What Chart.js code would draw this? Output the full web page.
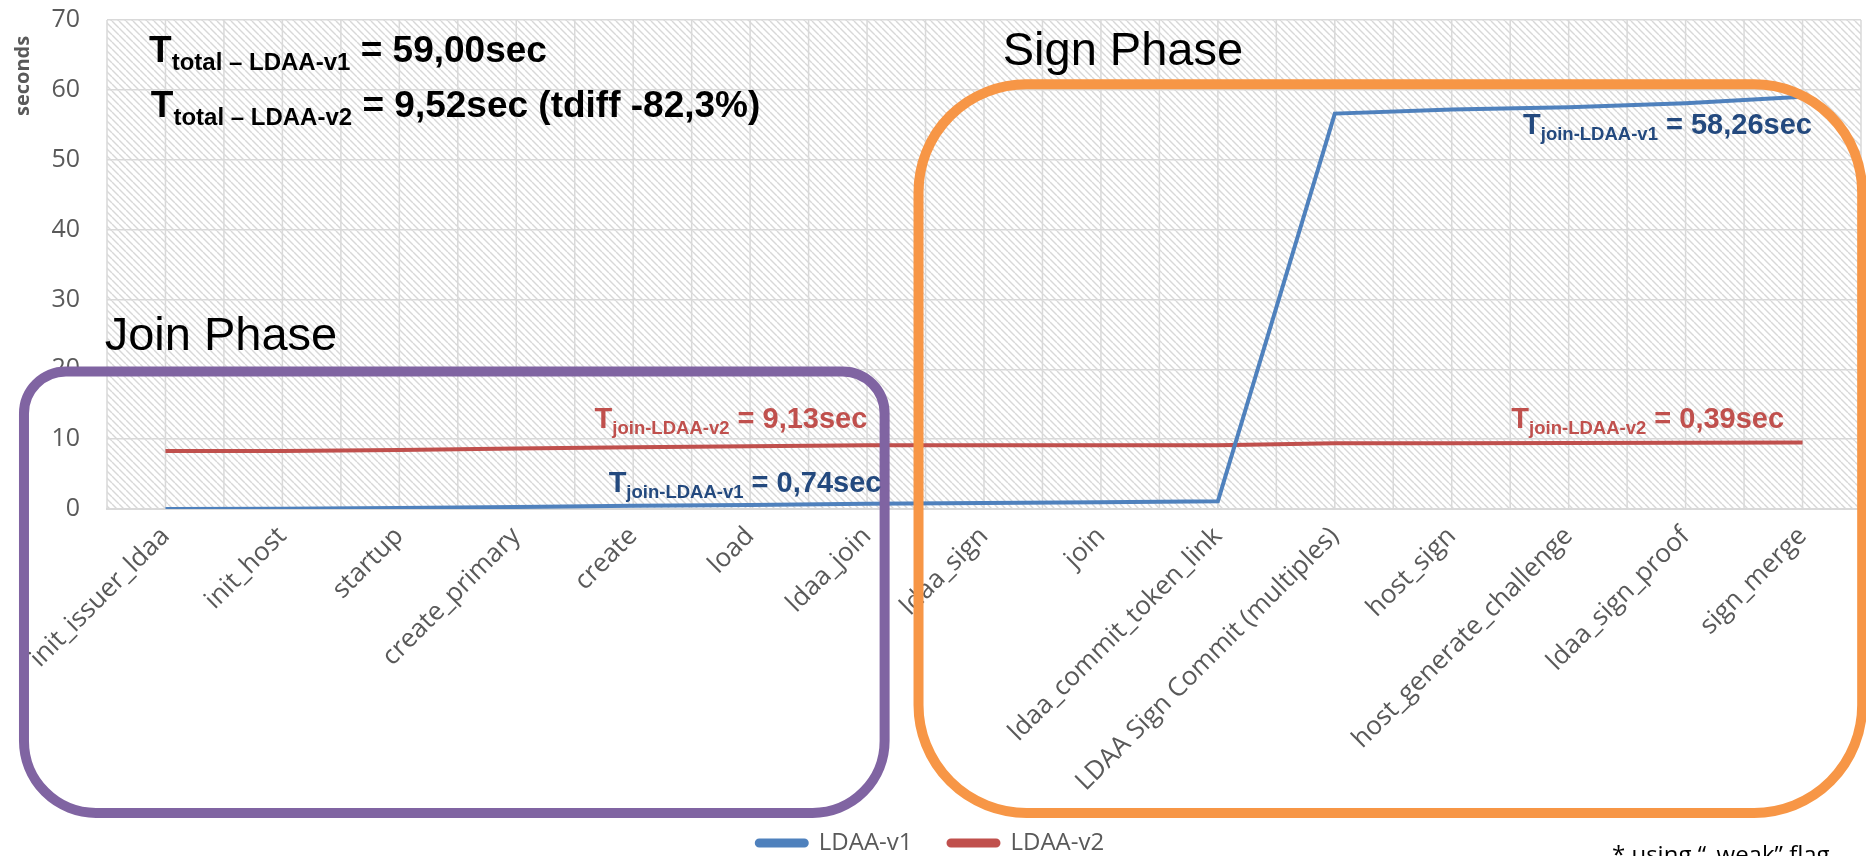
<!DOCTYPE html>
<html>
<head>
<meta charset="utf-8">
<script src="https://cdn.jsdelivr.net/npm/chart.js@4.4.1/dist/chart.umd.min.js"></script>
<style>
  html, body { margin: 0; padding: 0; background: #ffffff; overflow: hidden; }
  #wrap { width: 1866px; height: 856px; position: relative; }
</style>
</head>
<body>
<div id="wrap"><canvas id="chart" width="1866" height="856"></canvas></div>
<script>
// Cumulative execution time (seconds) per LDAA step
const categories = [
  'init_issuer_ldaa', 'init_host', 'startup', 'create_primary', 'create', 'load', 'ldaa_join',
  'ldaa_sign', 'join', 'ldaa_commit_token_link', 'LDAA Sign Commit (multiples)', 'host_sign',
  'host_generate_challenge', 'ldaa_sign_proof', 'sign_merge'
];
const ldaaV1 = [0.00, 0.05, 0.15, 0.30, 0.45, 0.58, 0.74, 0.86, 0.97, 1.10, 56.60, 57.20, 57.50, 58.10, 59.00];
const ldaaV2 = [8.30, 8.32, 8.45, 8.65, 8.85, 9.00, 9.13, 9.13, 9.13, 9.14, 9.40, 9.42, 9.45, 9.48, 9.52];
const seriesNames = ['LDAA-v1', 'LDAA-v2'];
const yTickValues = [0, 10, 20, 30, 40, 50, 60, 70];
const yTitle = 'seconds';

const BLUE = '#4F81BD';
const RED = '#C0504D';
const DARK_BLUE = '#23497E';
const GREY_TEXT = '#595959';
const GRID = '#D9D9D9';

// Phase frames, in axis units (x: category index, y: seconds)
const phaseFrames = [
  { x0: -1.21, x1: 6.15, y0: 19.7, y1: -43.5, color: '#8064A2', radii: [42, 42, 72, 72] },
  { x0: 6.44, x1: 14.51, y0: 60.8, y1: -43.5, color: '#F79646', radii: [108, 108, 108, 108] }
];
const phaseTitles = [
  { text: 'Join Phase', x: -0.52, y: 22.8 },
  { text: 'Sign Phase', x: 7.16, y: 63.6 }
];
// Labels made of "T" + subscript + value text
const totalLabels = [
  { sub: 'total \u2013 LDAA-v1', rest: ' = 59,00sec', x: -0.14, y: 64.0 },
  { sub: 'total \u2013 LDAA-v2', rest: ' = 9,52sec (tdiff -82,3%)', x: -0.125, y: 56.1 }
];
const joinLabels = [
  { sub: 'join-LDAA-v1', rest: ' = 58,26sec', x: 11.61, y: 53.7, color: DARK_BLUE },
  { sub: 'join-LDAA-v2', rest: ' = 9,13sec', x: 3.67, y: 11.6, color: RED },
  { sub: 'join-LDAA-v2', rest: ' = 0,39sec', x: 11.51, y: 11.6, color: RED },
  { sub: 'join-LDAA-v1', rest: ' = 0,74sec', x: 3.79, y: 2.4, color: DARK_BLUE }
];
const footnote = '* using \u201C_weak\u201D flag';

function drawSubscripted(ctx, x, y, item, big, small, dy, color) {
  ctx.fillStyle = color;
  ctx.textBaseline = 'alphabetic';
  ctx.textAlign = 'left';
  ctx.font = 'bold ' + big + 'px "Liberation Sans", Arial, sans-serif';
  ctx.fillText('T', x, y);
  let cx = x + ctx.measureText('T').width;
  ctx.font = 'bold ' + small + 'px "Liberation Sans", Arial, sans-serif';
  ctx.fillText(item.sub, cx, y + dy);
  cx += ctx.measureText(item.sub).width;
  ctx.font = 'bold ' + big + 'px "Liberation Sans", Arial, sans-serif';
  ctx.fillText(item.rest, cx, y);
}

// Hatched plot background with vertical grid at every half category
const backdropPlugin = {
  id: 'backdrop',
  beforeDraw(chart) {
    const { ctx, chartArea: a } = chart;
    const xs = chart.scales.x;
    const tile = document.createElement('canvas');
    tile.width = 7; tile.height = 7;
    const t = tile.getContext('2d');
    t.strokeStyle = '#d8d8d8';
    t.lineWidth = 1.4;
    t.beginPath();
    for (const k of [-7, 0, 7]) { t.moveTo(k, 0); t.lineTo(k + 7, 7); }
    t.stroke();
    ctx.save();
    ctx.fillStyle = ctx.createPattern(tile, 'repeat');
    ctx.fillRect(a.left, a.top, a.right - a.left, a.bottom - a.top);
    ctx.strokeStyle = GRID;
    ctx.lineWidth = 1.5;
    ctx.beginPath();
    for (let i = 0; i <= categories.length * 2; i++) {
      const px = xs.getPixelForValue(i / 2 - 0.5);
      ctx.moveTo(px, a.top);
      ctx.lineTo(px, a.bottom);
    }
    ctx.stroke();
    ctx.restore();
  }
};

// Phase frames, value annotations, axis title and footnote
const annotationPlugin = {
  id: 'annotations',
  afterDatasetsDraw(chart) {
    const { ctx } = chart;
    const xs = chart.scales.x, ys = chart.scales.y;
    ctx.save();
    phaseFrames.forEach(f => {
      const l = xs.getPixelForValue(f.x0), r = xs.getPixelForValue(f.x1);
      const t = ys.getPixelForValue(f.y0), b = ys.getPixelForValue(f.y1);
      ctx.beginPath();
      ctx.roundRect(l, t, r - l, b - t, f.radii);
      ctx.strokeStyle = f.color;
      ctx.lineWidth = 10;
      ctx.stroke();
    });
    ctx.fillStyle = '#000000';
    ctx.textAlign = 'left';
    ctx.textBaseline = 'alphabetic';
    ctx.font = '47px "Liberation Sans", Arial, sans-serif';
    phaseTitles.forEach(p => {
      ctx.fillText(p.text, xs.getPixelForValue(p.x), ys.getPixelForValue(p.y));
    });
    totalLabels.forEach(l => {
      drawSubscripted(ctx, xs.getPixelForValue(l.x), ys.getPixelForValue(l.y), l, 37, 24, 8, '#000000');
    });
    joinLabels.forEach(l => {
      drawSubscripted(ctx, xs.getPixelForValue(l.x), ys.getPixelForValue(l.y), l, 29, 18.5, 6, l.color);
    });

    // vertical axis title, placed near the top of the value axis
    ctx.save();
    ctx.translate(ys.left + 23, ys.getPixelForValue(62));
    ctx.rotate(-Math.PI / 2);
    ctx.font = 'bold 20px "Open Sans", sans-serif';
    ctx.fillStyle = GREY_TEXT;
    ctx.textAlign = 'center';
    ctx.textBaseline = 'middle';
    ctx.fillText(yTitle, 0, 0);
    ctx.restore();

    ctx.font = '24px "Open Sans", "Liberation Sans", sans-serif';
    ctx.fillStyle = '#000000';
    ctx.textBaseline = 'top';
    ctx.textAlign = 'left';
    ctx.fillText(footnote, chart.width - 254, chart.height - 12);
    ctx.restore();
  }
};

new Chart(document.getElementById('chart'), {
  type: 'line',
  data: {
    labels: categories,
    datasets: [
      { label: seriesNames[0], data: ldaaV1, borderColor: BLUE, backgroundColor: BLUE, borderWidth: 4, pointRadius: 0, tension: 0 },
      { label: seriesNames[1], data: ldaaV2, borderColor: RED, backgroundColor: RED, borderWidth: 4, pointRadius: 0, tension: 0 }
    ]
  },
  options: {
    responsive: false,
    animation: false,
    devicePixelRatio: 1,
    layout: { padding: { left: 0, top: 20, right: 5, bottom: -9 } },
    plugins: {
      legend: {
        position: 'bottom',
        labels: {
          boxWidth: 50,
          boxHeight: 5,
          padding: 36,
          color: GREY_TEXT,
          font: { family: 'Open Sans', size: 24 },
          useBorderRadius: true,
          borderRadius: 2.5
        }
      },
      tooltip: { enabled: false }
    },
    scales: {
      x: {
        offset: true,
        grid: { display: false, drawTicks: false },
        border: { display: true, color: GRID, width: 2 },
        ticks: {
          autoSkip: false,
          minRotation: 45,
          maxRotation: 45,
          padding: 12,
          color: GREY_TEXT,
          font: { family: 'Open Sans', size: 26 }
        },
        afterFit(scale) { scale.height = 286; }
      },
      y: {
        min: 0,
        max: 70,
        afterBuildTicks(scale) { scale.ticks = yTickValues.map(v => ({ value: v })); },
        grid: { color: GRID, lineWidth: 1.5, drawTicks: false },
        border: { display: false },
        ticks: {
          padding: 27,
          color: GREY_TEXT,
          font: { family: 'Open Sans', size: 25 }
        },
        afterFit(scale) {
          scale.width = 107;
          scale.paddingTop = 0;
          scale.paddingBottom = 0;
        }
      }
    }
  },
  plugins: [backdropPlugin, annotationPlugin]
});
</script>
</body>
</html>
